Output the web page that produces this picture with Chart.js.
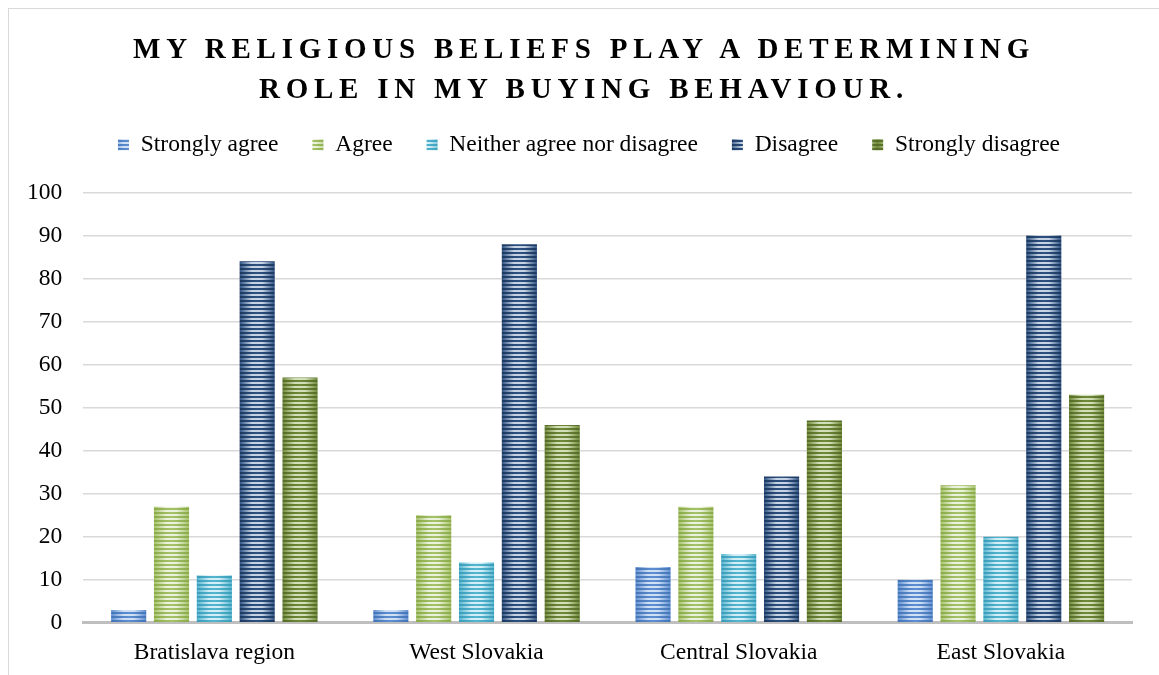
<!DOCTYPE html>
<html>
<head>
<meta charset="utf-8">
<script src="https://cdn.jsdelivr.net/npm/chart.js@4.4.1/dist/chart.umd.min.js"></script>
<style>
  body { margin: 0; background: #fff; }
  #frame {
    position: absolute; left: 8px; top: 8px; width: 1200px; height: 700px;
    border-left: 1.5px solid #d9d9d9; border-top: 1.5px solid #d9d9d9;
  }
  #title {
    position: absolute; top: 28px; left: 8px; width: 1152px; padding-left: 0;
    box-sizing: border-box; text-align: center;
    font: bold 29px 'Liberation Serif', 'Times New Roman', serif;
    letter-spacing: 5.75px; line-height: 40px; color: #000;
  }
  #wrap { position: absolute; left: 0; top: 0; width: 1159px; height: 675px; }
</style>
</head>
<body>
<div id="frame"></div>
<div id="wrap"><canvas id="chart"></canvas></div>
<div id="title"></div>
<script>
const titleLines = ['MY RELIGIOUS BELIEFS PLAY A DETERMINING', 'ROLE IN MY BUYING BEHAVIOUR.'];
const categories = ['Bratislava region', 'West Slovakia', 'Central Slovakia', 'East Slovakia'];
const seriesNames = ['Strongly agree', 'Agree', 'Neither agree nor disagree', 'Disagree', 'Strongly disagree'];
const stronglyAgree = [3, 3, 13, 10];
const agree = [27, 25, 27, 32];
const neither = [11, 14, 16, 20];
const disagree = [84, 88, 34, 90];
const stronglyDisagree = [57, 46, 47, 53];
const yMin = 0, yMax = 100, yStep = 10;

// stripe colours per series: edge, dark, light
const stripeColors = [
    ['#4474b6', '#5e8fd2', '#cfe0f5'],
    ['#8aaa48', '#a6c36a', '#eaf2dc'],
    ['#3a9cb8', '#55b6d0', '#d2eef6'],
    ['#1c3a60', '#2f5282', '#c6d3e4'],
    ['#566c28', '#6f8a38', '#d3dfb8']
];

document.querySelector('#title').innerHTML = titleLines.join('<br>');

function stripePattern(ctx, i) {
    const [edge, dark, light] = stripeColors[i];
    const el = ctx.element;
    const useBar = ctx.type === 'data' && el && el.width > 0 && isFinite(el.x);
    const w = useBar ? Math.max(1, Math.round(el.width)) : 11;
    const c = document.createElement('canvas');
    c.width = w;
    c.height = useBar ? 4 : 3;
    const g = c.getContext('2d');
    let grad = g.createLinearGradient(0, 0, w, 0);
    grad.addColorStop(0, edge);
    grad.addColorStop(0.5, dark);
    grad.addColorStop(1, edge);
    g.fillStyle = useBar ? grad : dark;
    g.fillRect(0, 0, w, 4);
    grad = g.createLinearGradient(0, 0, w, 0);
    grad.addColorStop(0, dark);
    grad.addColorStop(0.35, light);
    grad.addColorStop(0.65, light);
    grad.addColorStop(1, dark);
    g.fillStyle = useBar ? grad : light;
    if (!useBar) g.globalAlpha = 0.45;
    g.fillRect(0, 2, w, useBar ? 2 : 1);
    const pattern = ctx.chart.ctx.createPattern(c, 'repeat');
    if (useBar && pattern.setTransform) {
        pattern.setTransform(new DOMMatrix().translate(el.x - el.width / 2, 0));
    }
    return pattern;
}

const seriesValues = [stronglyAgree, agree, neither, disagree, stronglyDisagree];
const font = { family: "'Liberation Serif', 'Times New Roman', serif", size: 23.5 };

const legendGap = {
    id: 'legendGap',
    beforeInit(chart) {
        const origFit = chart.legend.fit;
        chart.legend.fit = function fit() {
            origFit.bind(chart.legend)();
            this.height += 26;
        };
    },
    afterLayout(chart) {
        // nudge the centred legend a little to the right, as in the original
        chart.legend.left += 40;
    }
};

const chart = new Chart(document.querySelector('#chart').getContext('2d'), {
    type: 'bar',
    data: {
        labels: categories,
        datasets: seriesNames.map((name, i) => ({
            label: name,
            data: seriesValues[i],
            backgroundColor: ctx => stripePattern(ctx, i),
            borderWidth: 0,
            categoryPercentage: 0.817,
            barPercentage: 0.82
        }))
    },
    options: {
        responsive: true,
        maintainAspectRatio: false,
        animation: false,
        layout: { padding: { top: 99, left: 6, right: 27, bottom: -8 } },
        plugins: {
            legend: {
                labels: {
                    boxWidth: 11,
                    boxHeight: 11,
                    padding: 34,
                    color: '#000',
                    font: font
                }
            },
            tooltip: { enabled: false }
        },
        scales: {
            x: {
                grid: { display: false, drawTicks: false },
                border: { display: true, color: '#bfbfbf', width: 3 },
                ticks: { color: '#000', font: { ...font, lineHeight: 0.9 }, padding: 19.5 }
            },
            y: {
                min: yMin,
                max: yMax,
                ticks: { stepSize: yStep, color: '#000', font: font, padding: 21 },
                grid: { color: '#d9d9d9', lineWidth: 1.5, drawTicks: false },
                border: { display: false }
            }
        }
    },
    plugins: [legendGap]
});
chart.update();
</script>
</body>
</html>
